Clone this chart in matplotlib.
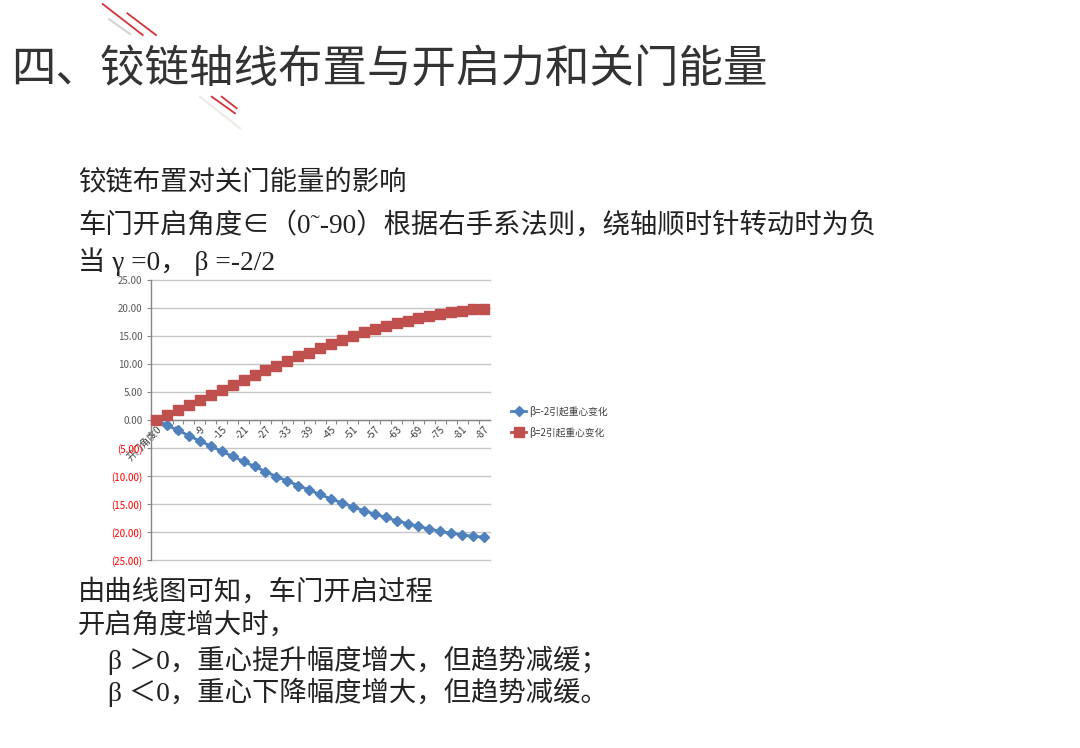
import matplotlib
matplotlib.use("Agg")
import matplotlib.pyplot as plt
from matplotlib.lines import Line2D

# ---------------- data ----------------
categories = ["开门角度0", "0", "-3", "-6", "-9", "-12", "-15", "-18", "-21", "-24", "-27",
              "-30", "-33", "-36", "-39", "-42", "-45", "-48", "-51", "-54", "-57",
              "-60", "-63", "-66", "-69", "-72", "-75", "-78", "-81", "-84", "-87"]
shown_labels = ["开门角度0", "-3", "-9", "-15", "-21", "-27", "-33", "-39", "-45", "-51",
                "-57", "-63", "-69", "-75", "-81", "-87"]
beta_neg = [0.0, -0.95, -1.85, -2.8, -3.75, -4.65, -5.6, -6.5, -7.4, -8.3, -9.2,
            -10.1, -10.9, -11.7, -12.5, -13.3, -14.1, -14.8, -15.5, -16.2, -16.8,
            -17.4, -18.0, -18.5, -19.0, -19.45, -19.9, -20.2, -20.5, -20.8, -20.9]
beta_pos = [0.0, 0.9, 1.8, 2.7, 3.6, 4.5, 5.4, 6.3, 7.2, 8.0, 8.9,
            9.7, 10.6, 11.4, 12.0, 12.8, 13.55, 14.3, 14.95, 15.65, 16.2,
            16.75, 17.3, 17.75, 18.2, 18.6, 18.9, 19.3, 19.5, 19.75, 19.85]
series_names = ["β=-2引起重心变化", "β=2引起重心变化"]
y_ticks = [25, 20, 15, 10, 5, 0, -5, -10, -15, -20, -25]

title = "四、铰链轴线布置与开启力和关门能量"
lines_top = ["铰链布置对关门能量的影响",
             "车门开启角度∈（0˜-90）根据右手系法则，绕轴顺时针转动时为负",
             "当 γ =0， β =-2/2"]
lines_bottom = ["由曲线图可知，车门开启过程",
                "开启角度增大时，",
                "β ＞0，重心提升幅度增大，但趋势减缓；",
                "β ＜0，重心下降幅度增大，但趋势减缓。"]

# ---------------- figure ----------------
W, H = 1080, 748
fig = plt.figure(figsize=(W / 100, H / 100), dpi=100)
fig.patch.set_facecolor("white")

def fx(px):
    return px / W

def fy(py):
    return 1 - py / H

sans = ["Noto Sans CJK SC", "DejaVu Sans"]
body = ["Liberation Serif", "Noto Sans CJK SC", "DejaVu Sans"]

# decorative diagonal strokes
deco = [((102.7, 4), (142.7, 35), "#d0343a", 1.3),
        ((127.3, 13.3), (156, 35), "#d0343a", 1.3),
        ((109.3, 19.3), (130, 34), "#d5d5d5", 1.6),
        ((211.7, 96.7), (235, 113.3), "#d0343a", 1.3),
        ((221.7, 96.7), (236.7, 108.3), "#d0343a", 1.3),
        ((200, 96.7), (240, 128.3), "#ecebe6", 1.6)]
for (x0, y0), (x1, y1), c, lw in deco:
    fig.add_artist(Line2D([fx(x0), fx(x1)], [fy(y0), fy(y1)], color=c, lw=lw,
                          transform=fig.transFigure))

fig.text(fx(11), fy(69), title, fontsize=32, color="#333333", family=sans,
         va="center", ha="left")

top_y = [182, 225, 262]
for t, yy in zip(lines_top, top_y):
    fig.text(fx(78), fy(yy), t, fontsize=19.7, color="#222222", family=body,
             va="center", ha="left", fontweight="light")

bot_pos = [(78, 592), (78, 625), (108, 660), (108, 692)]
for t, (xx, yy) in zip(lines_bottom, bot_pos):
    fig.text(fx(xx), fy(yy), t, fontsize=19.7, color="#222222", family=body,
             va="center", ha="left", fontweight="light")

# ---------------- chart ----------------
left, right, top, bottom = 150.7, 489.5, 280, 560
ax = fig.add_axes([fx(left), fy(bottom), fx(right - left), (bottom - top) / H])
x = list(range(len(categories)))
blue = "#4f81bd"
red = "#c0504d"
ax.plot(x, beta_neg, color=blue, lw=2.0, marker="D", markersize=4.6,
        markeredgecolor=blue, label=series_names[0], zorder=3, clip_on=False)
ax.plot(x, beta_pos, color=red, lw=2.0, marker="s", markersize=6.5,
        markeredgecolor=red, label=series_names[1], zorder=4, clip_on=False)

ax.set_xlim(-0.5, len(categories) - 0.5)
ax.set_ylim(-25, 25)
ax.set_yticks(y_ticks)
ax.set_yticklabels([f"{v:.2f}" if v >= 0 else f"({-v:.2f})" for v in y_ticks],
                   family=sans, fontsize=7)
for lab, v in zip(ax.get_yticklabels(), y_ticks):
    lab.set_color("#595959" if v >= 0 else "#ff0000")
ax.yaxis.grid(True, color="#c6c6c6", lw=1.0)
for gl in ax.get_ygridlines():
    gl.set_clip_on(False)
ax.set_axisbelow(True)
ax.tick_params(axis="y", length=3, width=0.8, color="#868686", pad=3)

for s in ["top", "right"]:
    ax.spines[s].set_visible(False)
ax.spines["left"].set_color("#868686")
ax.spines["left"].set_linewidth(1.0)
ax.spines["bottom"].set_position(("data", 0))
ax.spines["bottom"].set_color("#868686")
ax.spines["bottom"].set_linewidth(1.0)

ax.set_xticks(x[::2])
ax.set_xticklabels(shown_labels, family=sans, fontsize=7, rotation=45,
                   ha="right", va="top", rotation_mode="anchor", color="#404040")
ax.tick_params(axis="x", which="major", length=0, pad=3)
ax.set_xticks([i + 0.5 for i in range(len(categories) - 1)], minor=True)
ax.tick_params(axis="x", which="minor", length=3, width=0.8, color="#868686",
               direction="out")

leg = ax.legend(loc="upper left", bbox_to_anchor=(fx(506), fy(401)),
                bbox_transform=fig.transFigure, frameon=False,
                prop={"family": sans, "size": 7}, handlelength=1.6,
                handletextpad=0.3, labelspacing=1.0, borderpad=0)
for t in leg.get_texts():
    t.set_color("#404040")

fig.savefig("out.png", dpi=100, facecolor="white")
